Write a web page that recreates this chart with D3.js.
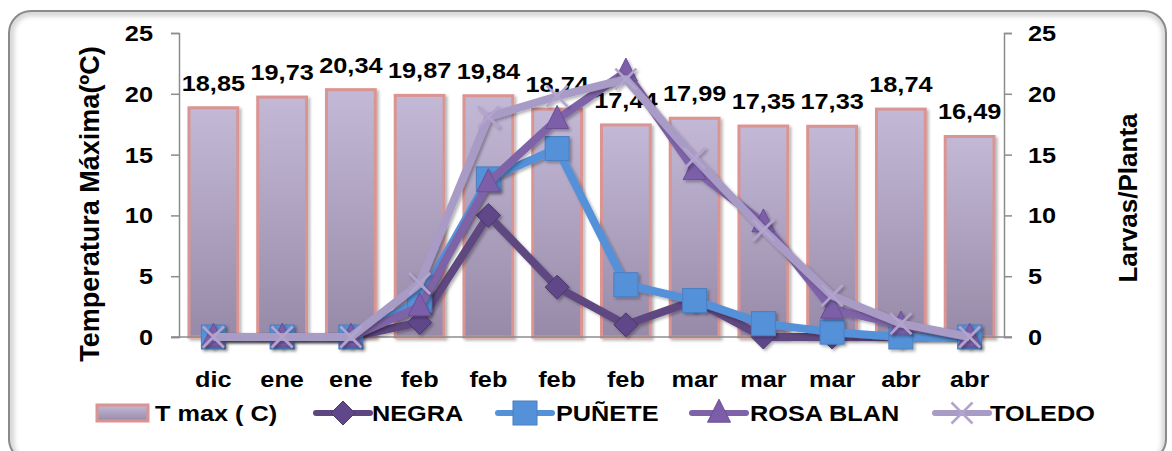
<!DOCTYPE html>
<html><head><meta charset="utf-8">
<script src="https://cdn.jsdelivr.net/npm/d3@7"></script>
<style>
html,body{margin:0;padding:0;background:#fff;}
text{font-family:"Liberation Sans",Arial,sans-serif;font-weight:bold;fill:#000;}
</style></head>
<body><svg id="c" width="1172" height="451"></svg>
<script>
const categories = ["dic","ene","ene","feb","feb","feb","feb","mar","mar","mar","abr","abr"];
const tmax = [18.85,19.73,20.34,19.87,19.84,18.74,17.44,17.99,17.35,17.33,18.74,16.49];
const tmaxLabels = ["18,85","19,73","20,34","19,87","19,84","18,74","17,44","17,99","17,35","17,33","18,74","16,49"];
const negra = [0,0,0,1.2,10,4.1,1,3,0,0,0,0];
const punete = [0,0,0,3,13,15.5,4.3,3,1.1,0.4,0,0];
const rosaBlan = [0,0,0,2.5,12.7,17.9,21.8,13.7,9.4,2.3,1,0];
const toledo = [0,0,0,4.4,18.1,19.8,21.2,14.7,8.8,3.4,1.1,0];
const yTicks = [0,5,10,15,20,25];
const seriesNames = ["T max ( C)","NEGRA","PUÑETE","ROSA BLAN","TOLEDO"];

const svg = d3.select("#c");
const defs = svg.append("defs");
const g1 = defs.append("linearGradient").attr("id","barg").attr("x1",0).attr("y1",0).attr("x2",0).attr("y2",1);
g1.append("stop").attr("offset","0%").attr("stop-color","#c3b9d6");
g1.append("stop").attr("offset","100%").attr("stop-color","#978aa8");
const sh = defs.append("filter").attr("id","sh").attr("x","-20%").attr("y","-20%").attr("width","140%").attr("height","140%");
sh.append("feDropShadow").attr("dx",2).attr("dy",2).attr("stdDeviation",1.8).attr("flood-color","#000").attr("flood-opacity",0.3);
defs.append("filter").attr("id","bl").append("feGaussianBlur").attr("stdDeviation",2.5);
defs.append("clipPath").attr("id","frameclip").append("rect").attr("x",9).attr("y",11).attr("width",1157).attr("height",450).attr("rx",22);

// frame
svg.append("g").attr("clip-path","url(#frameclip)").append("rect")
  .attr("x",11).attr("y",13).attr("width",1154).attr("height",450).attr("rx",20)
  .attr("fill","none").attr("stroke","#d0d0d0").attr("stroke-width",6).attr("filter","url(#bl)");
svg.append("rect").attr("x",9).attr("y",11).attr("width",1157).attr("height",450).attr("rx",22)
  .attr("fill","none").attr("stroke","#8a8a8a").attr("stroke-width",2);

const L = 179, R = 1004, T0 = 33, B = 337;
const x = d3.scaleBand().domain(d3.range(categories.length)).range([L,R]).paddingInner(0.29).paddingOuter(0.145);
const y = d3.scaleLinear().domain([0,25]).range([B,T0]);
const y2 = d3.scaleLinear().domain([0,25]).range([B,T0]);
const cx = i => x(i) + x.bandwidth()/2;
const SX = 1.15;

// axes
const axL = svg.append("g").attr("transform",`translate(${L},0)`).call(d3.axisLeft(y).tickValues(yTicks).tickSize(8).tickFormat(""));
const axR = svg.append("g").attr("transform",`translate(${R},0)`).call(d3.axisRight(y2).tickValues(yTicks).tickSize(8).tickFormat(""));
[axL,axR].forEach(a=>{a.selectAll("path,line").attr("stroke","#8c8c8c").attr("stroke-width",1.5);});
yTicks.forEach(t=>{
  svg.append("text").attr("transform",`translate(153,${y(t)+8}) scale(${SX},1)`).attr("text-anchor","end").attr("font-size",22).text(t);
  svg.append("text").attr("transform",`translate(1028,${y2(t)+8}) scale(${SX},1)`).attr("text-anchor","start").attr("font-size",22).text(t);
});

// bars
svg.append("g").selectAll("rect").data(tmax).join("rect")
  .attr("x",(d,i)=>x(i)).attr("y",d=>y(d)).attr("width",x.bandwidth()).attr("height",d=>B-y(d))
  .attr("fill","url(#barg)").attr("stroke","#da9492").attr("stroke-width",3).attr("filter","url(#sh)");
svg.append("line").attr("x1",L-8).attr("x2",R+8).attr("y1",B).attr("y2",B).attr("stroke","#8c8c8c").attr("stroke-width",1.5);

// data labels
svg.append("g").selectAll("text").data(tmax).join("text")
  .attr("transform",(d,i)=>`translate(${cx(i)},${y(d)-17}) scale(${SX},1)`)
  .attr("text-anchor","middle").attr("font-size",22).text((d,i)=>tmaxLabels[i]);

// markers
function marker(sel, type, color, sz){
  if(type==="diamond") sel.append("path").attr("d",`M0,${-sz}L${sz},0L0,${sz}L${-sz},0Z`).attr("fill",color).attr("stroke","#4a3868").attr("stroke-width",1);
  if(type==="square") sel.append("rect").attr("x",-sz).attr("y",-sz).attr("width",2*sz).attr("height",2*sz).attr("fill",color).attr("stroke","#4a7fc2").attr("stroke-width",1);
  if(type==="triangle") sel.append("path").attr("d",`M0,${-sz*1.2}L${sz},${sz*0.8}L${-sz},${sz*0.8}Z`).attr("fill",color).attr("stroke","#6a4f95").attr("stroke-width",1);
  if(type==="x") sel.append("path").attr("d",`M${-sz},${-sz}L${sz},${sz}M${-sz},${sz}L${sz},${-sz}`).attr("stroke",color).attr("stroke-width",2.5).attr("fill","none");
}
const lines = [
  {vals:negra, color:"#5e4680", mcol:"#60478a", type:"diamond", sz:12},
  {vals:punete, color:"#5591d8", mcol:"#5591d8", type:"square", sz:12},
  {vals:rosaBlan, color:"#7f63a8", mcol:"#7c5ea8", type:"triangle", sz:11.5},
  {vals:toledo, color:"#a89bc6", mcol:"#b2a4cd", type:"x", sz:10.5}
];
const lineGen = d3.line().x((d,i)=>cx(i)).y(d=>y2(d));
lines.forEach(s=>{
  const g = svg.append("g").attr("filter","url(#sh)");
  g.append("path").datum(s.vals).attr("d",lineGen).attr("fill","none").attr("stroke",s.color).attr("stroke-width",8).attr("stroke-linejoin","round");
  s.vals.forEach((v,i)=>{ marker(g.append("g").attr("transform",`translate(${cx(i)},${y2(v)})`), s.type, s.mcol, s.sz); });
});

// category labels
svg.append("g").selectAll("text").data(categories).join("text")
  .attr("transform",(d,i)=>`translate(${cx(i)},387) scale(${SX},1)`).attr("text-anchor","middle").attr("font-size",22).text(d=>d);

// axis titles
svg.append("text").attr("transform","translate(99,204) rotate(-90)").attr("text-anchor","middle").attr("font-size",27).text("Temperatura Máxima(ºC)");
svg.append("text").attr("transform","translate(1137,198) rotate(-90)").attr("text-anchor","middle").attr("font-size",26).text("Larvas/Planta");

// legend
const symX = [97,316,498,692,935];
const txtX = [155,372,556,750,990];
const LY = 413;
const lg = svg.append("g");
lg.append("rect").attr("x",symX[0]).attr("y",LY-8).attr("width",51).attr("height",16).attr("fill","url(#barg)").attr("stroke","#da9492").attr("stroke-width",3);
lines.forEach((s,k)=>{
  const x0 = symX[k+1];
  const g = lg.append("g");
  g.append("line").attr("x1",x0).attr("x2",x0+54).attr("y1",LY).attr("y2",LY).attr("stroke",s.color).attr("stroke-width",6).attr("stroke-linecap","round");
  marker(g.append("g").attr("transform",`translate(${x0+27},${LY})`), s.type, s.mcol, s.sz);
});
seriesNames.forEach((n,k)=>{
  lg.append("text").attr("transform",`translate(${txtX[k]},${LY+8}) scale(${SX},1)`).attr("font-size",22).text(n);
});
</script></body></html>
